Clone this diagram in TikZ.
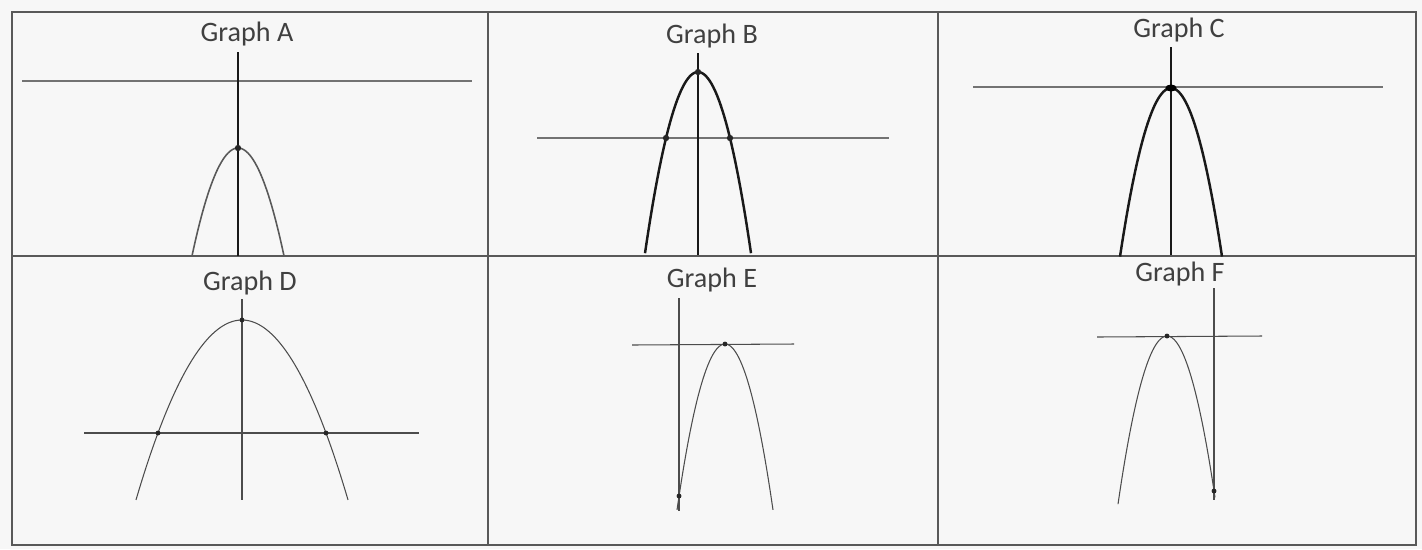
\documentclass[tikz,border=0pt]{standalone}
\usepackage{fontspec}
\setmainfont{Carlito}
\usepackage{tikz}
\usetikzlibrary{calc}

\begin{document}
\begin{tikzpicture}[x=0.02cm,y=-0.02cm,
    gtitle/.style={font=\fontsize{16}{19}\selectfont, text=black!75, inner sep=0pt, anchor=base},
    cellline/.style={draw=black!65, line width=0.6pt},
    levelline/.style={draw=black!55, line width=0.6pt},
    axisthick/.style={draw=black!90, line width=1.3pt},
    curvethick/.style={draw=black!90, line width=1.4pt},
    curvegrey/.style={draw=black!65, line width=0.9pt},
    thinline/.style={draw=black!70, line width=0.6pt},
    dotsmall/.style={fill=black!85}]

        %=====================
        % Page and table
        %=====================
        \fill[black!3] (0,0) rectangle (1422,549);
        \draw[cellline] (12,12) rectangle (1416,545);
        \draw[cellline] (12,256) -- (1416,256);
        \draw[cellline] (488,12) -- (488,545);
        \draw[cellline] (938,12) -- (938,545);

        %=====================
        % Graph A
        %=====================
        \node[gtitle] (titleA) at (247,41) {Graph A};
        \draw[levelline] (22,81) -- (472,81);
        \draw[curvegrey,domain=192:284,samples=60]
        plot (\x,{148 + 0.051*(\x-238)^2});
        \draw[axisthick] (238,52) -- (238,256);
        \coordinate (vertexA) at (238,148);
        \fill[dotsmall] (vertexA) circle[radius=1.8pt];

        %=====================
        % Graph B
        %=====================
        \node[gtitle] (titleB) at (712,43) {Graph B};
        \draw[levelline] (537,138) -- (889,138);
        \draw[curvethick,domain=645:751,samples=60]
        plot (\x,{72 + 0.0645*(\x-698)^2});
        \draw[axisthick] (698,53) -- (698,255);
        \coordinate (vertexB) at (698,72);
        \coordinate (leftB) at (666,138);
        \coordinate (rightB) at (730,138);
        \foreach \p in {vertexB,leftB,rightB}
            \fill[dotsmall] (\p) circle[radius=1.8pt];

        %=====================
        % Graph C
        %=====================
        \node[gtitle] (titleC) at (1179,37) {Graph C};
        \draw[levelline] (973,87) -- (1383,87);
        \draw[curvethick,domain=1120:1222,samples=60]
        plot (\x,{88 + 0.0648*(\x-1171)^2});
        \draw[axisthick] (1171,47) -- (1171,255);
        \coordinate (vertexC) at (1171,88);
        \fill[black] (vertexC) ellipse[x radius=3.2pt, y radius=2pt];

        %=====================
        % Graph D
        %=====================
        \node[gtitle] (titleD) at (250,290) {Graph D};
        \draw[thinline] (84,433) -- (419,433);
        \draw[thinline] (242,299) -- (242,500);
        \draw[thinline,domain=136:348,samples=80]
        plot (\x,{320 + 0.016*(\x-242)^2});
        \coordinate (vertexD) at (242,320);
        \coordinate (leftD) at (158,433);
        \coordinate (rightD) at (326,433);
        \foreach \p in {vertexD,leftD,rightD}
            \fill[dotsmall] (\p) circle[radius=1.4pt];

        %=====================
        % Graph E
        %=====================
        \node[gtitle] (titleE) at (712,287) {Graph E};
        \draw[thinline] (632,345) -- (794,344);
        \draw[thinline] (679,298) -- (679,511);
        \draw[thinline,domain=677:773,samples=60]
        plot (\x,{344 + 0.072*(\x-725)^2});
        \coordinate (vertexE) at (725,344);
        \coordinate (crossE) at (679,496);
        \foreach \p in {vertexE,crossE}
            \fill[dotsmall] (\p) circle[radius=1.4pt];

        %=====================
        % Graph F
        %=====================
        \node[gtitle] (titleF) at (1180,281) {Graph F};
        \draw[thinline] (1097,337) -- (1262,336);
        \draw[thinline] (1214,288) -- (1214,500);
        \draw[thinline,domain=1118:1215,samples=60]
        plot (\x,{336 + 0.07*(\x-1167)^2});
        \coordinate (vertexF) at (1167,336);
        \coordinate (crossF) at (1214,491);
        \foreach \p in {vertexF,crossF}
            \fill[dotsmall] (\p) circle[radius=1.4pt];

\end{tikzpicture}
\end{document}
